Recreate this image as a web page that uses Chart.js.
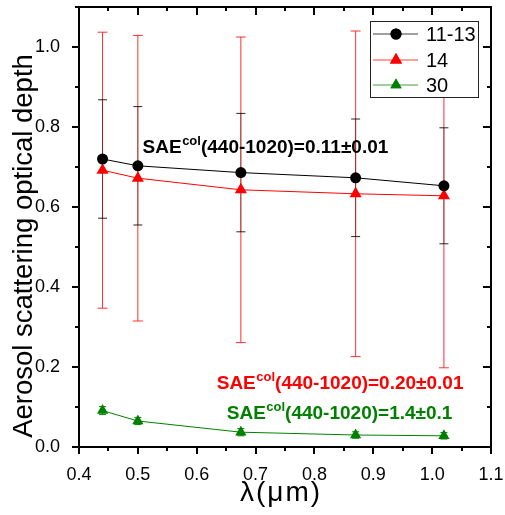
<!DOCTYPE html>
<html>
<head>
<meta charset="utf-8">
<script src="https://cdn.jsdelivr.net/npm/chart.js@4.4.0/dist/chart.umd.min.js"></script>
<style>
  body { margin: 0; background: #fff; }
  canvas { display: block; }
</style>
</head>
<body>
<canvas id="chart" width="505" height="515"></canvas>
<script>
// wavelengths in micrometres
const wavelengths = [0.44, 0.5, 0.675, 0.87, 1.02];

// aerosol scattering optical depth and error bar half-widths
const aod1113 = [0.720, 0.703, 0.686, 0.673, 0.653];
const err1113 = [0.148, 0.148, 0.148, 0.147, 0.145];

const aod14 = [0.692, 0.672, 0.643, 0.633, 0.628];
const err14 = [0.345, 0.357, 0.382, 0.407, 0.430];

const aod30 = [0.091, 0.065, 0.037, 0.030, 0.028];
const err30 = [0.010, 0.009, 0.009, 0.008, 0.008];

const seriesNames = ['11-13', '14', '30'];
const saeValues = ['0.11±0.01', '0.20±0.01', '1.4±0.1'];

const xTicks = [0.4, 0.5, 0.6, 0.7, 0.8, 0.9, 1.0, 1.1];
const xMinorTicks = [0.45, 0.55, 0.65, 0.75, 0.85, 0.95, 1.05];
const yTicks = [0.0, 0.2, 0.4, 0.6, 0.8, 1.0];
const yMinorTicks = [0.1, 0.3, 0.5, 0.7, 0.9, 1.1];

const FONT = "'Liberation Sans', Arial, sans-serif";

function toPoints(ys) {
  return wavelengths.map((x, i) => ({ x: x, y: ys[i] }));
}

const errorBars = {
  id: 'errorBars',
  beforeDatasetsDraw(chart) {
    const ctx = chart.ctx;
    const xs = chart.scales.x, ys = chart.scales.y;
    // red first, black over it, green last
    [1, 0, 2].forEach(di => {
      const ds = chart.data.datasets[di];
      ds.data.forEach((p, i) => {
        const e = ds.errors[i];
        const px = xs.getPixelForValue(p.x);
        const top = ys.getPixelForValue(p.y + e);
        const bot = ys.getPixelForValue(p.y - e);
        ctx.save();
        ctx.lineWidth = 1;
        ctx.strokeStyle = ds.errLine;
        ctx.beginPath();
        ctx.moveTo(px, top);
        ctx.lineTo(px, bot);
        ctx.stroke();
        ctx.strokeStyle = ds.errCap;
        ctx.beginPath();
        ctx.moveTo(px - ds.capHalf, top);
        ctx.lineTo(px + ds.capHalf, top);
        ctx.moveTo(px - ds.capHalf, bot);
        ctx.lineTo(px + ds.capHalf, bot);
        ctx.stroke();
        ctx.restore();
      });
    });
  }
};

// axis box and tick marks
function drawAxesBox(chart) {
  const ctx = chart.ctx;
  const xs = chart.scales.x, ys = chart.scales.y;
  const L = Math.round(xs.getPixelForValue(0.4));
  const R = Math.round(xs.getPixelForValue(1.1));
  const B = Math.round(ys.getPixelForValue(0));
  const T = Math.round(ys.getPixelForValue(1.1));
  ctx.save();
  ctx.fillStyle = 'rgb(0,0,0)';
  xTicks.forEach(v => {
    const px = Math.round(xs.getPixelForValue(v));
    ctx.fillRect(px - 1, B, 2, 7);
    ctx.fillRect(px - 1, T, 2, 8);
  });
  xMinorTicks.forEach(v => {
    const px = Math.round(xs.getPixelForValue(v));
    ctx.fillRect(px - 1, B, 2, 4);
    ctx.fillRect(px - 1, T, 2, 4);
  });
  yTicks.forEach(v => {
    const py = Math.round(ys.getPixelForValue(v));
    ctx.fillRect(L - 7, py - 1, 7, 2);
    ctx.fillRect(R - 8, py - 1, 8, 2);
  });
  yMinorTicks.forEach(v => {
    const py = Math.round(ys.getPixelForValue(v));
    ctx.fillRect(L - 4, py - 1, 4, 2);
    ctx.fillRect(R - 4, py - 1, 4, 2);
  });
  ctx.fillRect(L - 1, B - 1, R - L + 2, 2);
  ctx.fillRect(L - 1, T - 1, R - L + 2, 2);
  ctx.fillRect(L - 1, T - 1, 2, B - T + 2);
  ctx.fillRect(R - 1, T - 1, 2, B - T + 2);
  ctx.restore();
}

const frameAndText = {
  id: 'frameAndText',
  afterDraw(chart) {
    const ctx = chart.ctx;
    const xs = chart.scales.x, ys = chart.scales.y;
    drawAxesBox(chart);
    ctx.save();

    // SAE annotations
    const anchors = [[0.508, 0.734], [0.634, 0.145], [0.651, 0.069]];
    chart.data.datasets.forEach((ds, i) => {
      let x = xs.getPixelForValue(anchors[i][0]);
      const y = ys.getPixelForValue(anchors[i][1]);
      ctx.fillStyle = ds.borderColor;
      ctx.textBaseline = 'alphabetic';
      ctx.textAlign = 'left';
      ctx.font = 'bold 19px ' + FONT;
      ctx.fillText('SAE', x, y);
      x += ctx.measureText('SAE').width;
      ctx.font = 'bold 13px ' + FONT;
      ctx.fillText('col', x + 0.5, y - 8);
      x += ctx.measureText('col').width + 0.5;
      ctx.font = 'bold 19px ' + FONT;
      ctx.fillText('(440-1020)=' + saeValues[i], x, y);
    });

    // legend
    const lx = 370, ly = 21, lw = 108, lh = 76;
    ctx.fillStyle = '#fff';
    ctx.fillRect(lx, ly, lw, lh);
    ctx.strokeStyle = '#222';
    ctx.lineWidth = 1;
    ctx.strokeRect(lx + 0.5, ly + 0.5, lw, lh);
    const rows = [34, 60, 85];
    chart.data.datasets.forEach((ds, i) => {
      const ry = rows[i];
      ctx.strokeStyle = ds.borderColor;
      ctx.globalAlpha = 0.75;
      ctx.beginPath();
      ctx.moveTo(373, ry); ctx.lineTo(418, ry);
      ctx.stroke();
      ctx.globalAlpha = 1;
      ctx.fillStyle = ds.borderColor;
      Chart.helpers.drawPoint(ctx, {
        pointStyle: ds.pointStyle, radius: ds.pointRadius, rotation: 0, borderWidth: 0
      }, 396, ry);
      ctx.fill();
      ctx.fillStyle = '#000';
      ctx.font = '20px ' + FONT;
      ctx.textBaseline = 'middle';
      ctx.fillText(ds.label, 426, ry + 1);
    });

    // axis titles
    ctx.fillStyle = '#000';
    ctx.textAlign = 'center';
    ctx.textBaseline = 'middle';
    ctx.font = '28px ' + FONT;
    ctx.letterSpacing = '2px';
    ctx.fillText('λ(μm)', 281, 493);
    ctx.letterSpacing = '0px';
    ctx.font = '27.5px ' + FONT;
    ctx.translate(24, 246);
    ctx.rotate(-Math.PI / 2);
    ctx.fillText('Aerosol scattering optical depth', 0, 0);
    ctx.restore();
  }
};

new Chart(document.getElementById('chart'), {
  type: 'line',
  data: {
    datasets: [
      {
        label: seriesNames[0], data: toPoints(aod1113), errors: err1113,
        borderColor: '#000000', backgroundColor: '#000000', borderWidth: 1,
        pointStyle: 'circle', pointRadius: 5.5, pointBorderWidth: 0,
        errLine: 'rgba(0,0,0,0.4)', errCap: 'rgba(0,0,0,0.85)', capHalf: 4.5
      },
      {
        label: seriesNames[1], data: toPoints(aod14), errors: err14,
        borderColor: '#ff0000', backgroundColor: '#ff0000', borderWidth: 1,
        pointStyle: 'triangle', pointRadius: 7, pointBorderWidth: 0,
        errLine: '#ff3030', errCap: '#ff3030', capHalf: 5
      },
      {
        label: seriesNames[2], data: toPoints(aod30), errors: err30,
        borderColor: '#008000', backgroundColor: '#008000', borderWidth: 1,
        pointStyle: 'triangle', pointRadius: 6.5, pointBorderWidth: 0,
        errLine: '#008000', errCap: '#008000', capHalf: 3.5
      }
    ]
  },
  options: {
    responsive: false,
    animation: false,
    layout: { padding: { top: 7, right: 14, left: 0, bottom: 0 } },
    plugins: { legend: { display: false }, tooltip: { enabled: false } },
    elements: { line: { tension: 0 } },
    scales: {
      x: {
        type: 'linear', min: 0.4, max: 1.1,
        grid: { display: false }, border: { display: false },
        afterBuildTicks: s => { s.ticks = xTicks.map(v => ({ value: v })); },
        afterFit: s => {
          s.height = 68;
          s.paddingLeft = 0; s.paddingRight = 0; s.paddingTop = 0; s.paddingBottom = 0;
        },
        ticks: {
          padding: 9, color: '#000', font: { family: FONT, size: 18 },
          callback: v => v.toFixed(1)
        }
      },
      y: {
        type: 'linear', min: 0, max: 1.1,
        grid: { display: false }, border: { display: false },
        afterBuildTicks: s => { s.ticks = yTicks.map(v => ({ value: v })); },
        afterFit: s => {
          s.width = 79;
          s.paddingLeft = 0; s.paddingRight = 0; s.paddingTop = 0; s.paddingBottom = 0;
        },
        ticks: {
          padding: 11, color: '#000', font: { family: FONT, size: 18 },
          callback: v => v.toFixed(1)
        }
      }
    }
  },
  plugins: [errorBars, frameAndText]
});
</script>
</body>
</html>
